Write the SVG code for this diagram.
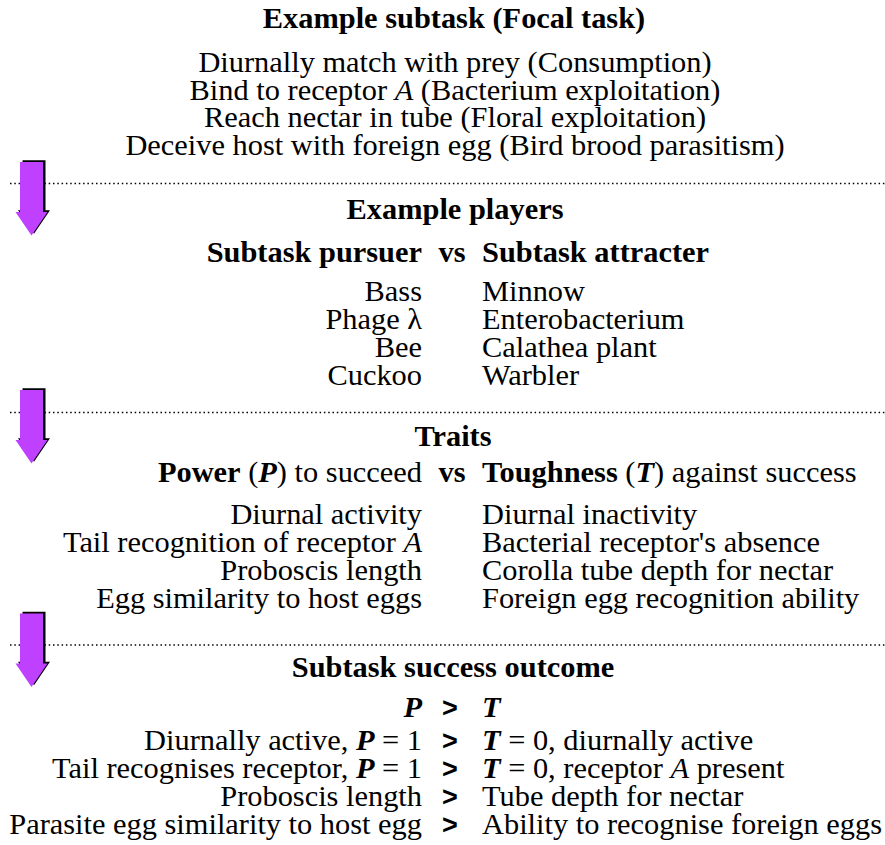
<svg xmlns="http://www.w3.org/2000/svg" width="885" height="845" viewBox="0 0 885 845">
<style>
text { font-family: "Liberation Serif", "Times New Roman", Times, serif; font-size: 30.4px; fill: #000; }
.b { font-weight: bold; }
.i { font-style: italic; }
.bi { font-weight: bold; font-style: italic; }
.c { text-anchor: middle; }
.r { text-anchor: end; }
.gt { font-family: "Liberation Sans", Arial, sans-serif; font-weight: bold; font-size: 27px; text-anchor: middle; }
.dot { stroke: #000; stroke-width: 1.5; stroke-dasharray: 1.5 2.8; fill: none; }
.ash { fill: #000; }
.afill { fill: #C040FF; }
</style>
<defs>
<path id="arr" d="M20,0 H43 V50 H47.5 L31.5,73.5 L15.5,50 H20 Z"/>
</defs>
<rect width="885" height="845" fill="#fff"/>

<g id="separators">
<line class="dot" x1="10" y1="183.5" x2="885" y2="183.5"/>
<line class="dot" x1="10" y1="412.5" x2="885" y2="412.5"/>
<line class="dot" x1="10" y1="645" x2="885" y2="645"/>
</g>

<g id="connectors">
<g transform="translate(0,162)"><use href="#arr" class="ash" x="2.5" y="-1.7"/><use href="#arr" class="afill"/></g>
<g transform="translate(0,390)"><use href="#arr" class="ash" x="2.5" y="-1.7"/><use href="#arr" class="afill"/></g>
<g transform="translate(0,613.5)"><use href="#arr" class="ash" x="2.5" y="-1.7"/><use href="#arr" class="afill"/></g>
</g>

<g id="subtask">
<text class="b c" x="454" y="28">Example subtask (Focal task)</text>
<text class="c" x="455" y="72">Diurnally match with prey (Consumption)</text>
<text class="c" x="455" y="100">Bind to receptor <tspan class="i">A</tspan> (Bacterium exploitation)</text>
<text class="c" x="455" y="127">Reach nectar in tube (Floral exploitation)</text>
<text class="c" x="455" y="155">Deceive host with foreign egg (Bird brood parasitism)</text>
</g>

<g id="players">
<text class="b c" x="455" y="219">Example players</text>
<text class="b r" x="422" y="262">Subtask pursuer</text>
<text class="b c" x="452" y="262">vs</text>
<text class="b" x="482" y="262">Subtask attracter</text>
<text class="r" x="422" y="301">Bass</text>
<text x="482" y="301">Minnow</text>
<text class="r" x="422" y="329">Phage λ</text>
<text x="482" y="329">Enterobacterium</text>
<text class="r" x="422" y="357">Bee</text>
<text x="482" y="357">Calathea plant</text>
<text class="r" x="422" y="385">Cuckoo</text>
<text x="482" y="385">Warbler</text>
</g>

<g id="traits">
<text class="b c" x="453" y="446">Traits</text>
<text class="r" x="422" y="482"><tspan class="b">Power</tspan> (<tspan class="bi">P</tspan>) to succeed</text>
<text class="b c" x="452" y="482">vs</text>
<text x="482" y="482"><tspan class="b">Toughness</tspan> (<tspan class="bi">T</tspan>) against success</text>
<text class="r" x="422" y="524">Diurnal activity</text>
<text x="482" y="524">Diurnal inactivity</text>
<text class="r" x="422" y="552">Tail recognition of receptor <tspan class="i">A</tspan></text>
<text x="482" y="552">Bacterial receptor's absence</text>
<text class="r" x="422" y="580">Proboscis length</text>
<text x="482" y="580">Corolla tube depth for nectar</text>
<text class="r" x="422" y="608">Egg similarity to host eggs</text>
<text x="482" y="608">Foreign egg recognition ability</text>
</g>

<g id="outcome">
<text class="b c" x="453" y="677">Subtask success outcome</text>
<text class="bi r" x="422" y="717">P</text>
<text class="gt" x="450" y="717">&gt;</text>
<text class="bi" x="482" y="717">T</text>
<text class="r" x="422" y="750">Diurnally active, <tspan class="bi">P</tspan> = 1</text>
<text class="gt" x="450" y="750">&gt;</text>
<text x="482" y="750"><tspan class="bi">T</tspan> = 0, diurnally active</text>
<text class="r" x="422" y="778">Tail recognises receptor, <tspan class="bi">P</tspan> = 1</text>
<text class="gt" x="450" y="778">&gt;</text>
<text x="482" y="778"><tspan class="bi">T</tspan> = 0, receptor <tspan class="i">A</tspan> present</text>
<text class="r" x="422" y="806">Proboscis length</text>
<text class="gt" x="450" y="806">&gt;</text>
<text x="482" y="806">Tube depth for nectar</text>
<text class="r" x="422" y="834">Parasite egg similarity to host egg</text>
<text class="gt" x="450" y="834">&gt;</text>
<text x="482" y="834">Ability to recognise foreign eggs</text>
</g>
</svg>
